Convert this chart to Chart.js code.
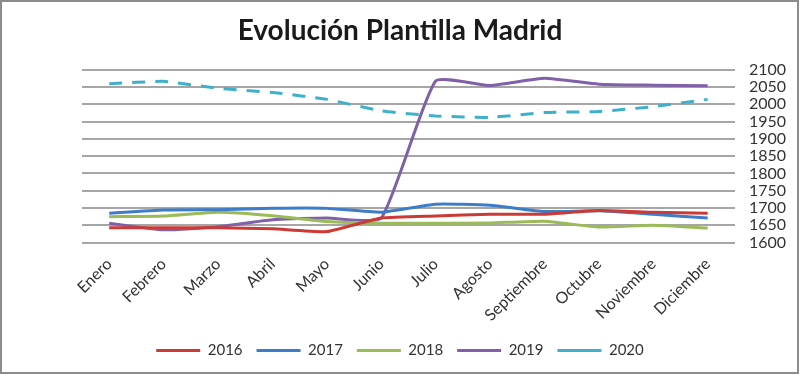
<!DOCTYPE html>
<html>
<head>
<meta charset="utf-8">
<script src="https://cdn.jsdelivr.net/npm/chart.js@4/dist/chart.umd.min.js"></script>
<style>
	html, body { margin: 0; padding: 0; background: #fff; }
	#wrap { width: 800px; height: 375px; position: relative; }
</style>
</head>
<body>
<div id="wrap"><canvas id="chart" width="800" height="375"></canvas></div>
<script>
	'use strict';

	const MONTHS = [ 'Enero', 'Febrero', 'Marzo', 'Abril', 'Mayo', 'Junio', 'Julio', 'Agosto', 'Septiembre', 'Octubre', 'Noviembre', 'Diciembre' ];
	const Y2016 = [ 1643, 1643, 1643, 1640, 1632, 1671, 1677, 1682, 1682, 1693, 1688, 1685 ];
	const Y2017 = [ 1685, 1694, 1695, 1699, 1699, 1688, 1711, 1708, 1690, 1692, 1682, 1671 ];
	const Y2018 = [ 1675, 1677, 1688, 1678, 1661, 1656, 1656, 1657, 1662, 1645, 1650, 1642 ];
	const Y2019 = [ 1656, 1637, 1646, 1666, 1671, 1671, 2067, 2054, 2075, 2058, 2055, 2053 ];
	const Y2020 = [ 2059, 2066, 2046, 2034, 2014, 1981, 1966, 1962, 1976, 1979, 1993, 2014 ];
	const Y_MIN = 1600;
	const Y_MAX = 2100;
	const Y_STEP = 50;

	const FONT = 'Lato, "Open Sans", "Liberation Sans", sans-serif';

	function series( label, data, color, dash ) {
		return {
			label: label,
			data: data,
			borderColor: color,
			backgroundColor: color,
			borderWidth: 3,
			borderDash: dash || [],
			pointRadius: 0,
			pointHoverRadius: 0,
			tension: 0.15,
			fill: false,
		};
	}

	const frame = {
		id: 'frame',
		afterDraw: function ( chart ) {
			const ctx = chart.ctx;
			ctx.save();
			ctx.strokeStyle = '#8c8c8c';
			ctx.lineWidth = 2;
			ctx.strokeRect( 1, 1, chart.width - 3, chart.height - 3 );
			ctx.restore();
		},
	};

	new Chart( document.getElementById( 'chart' ).getContext( '2d' ), {
		type: 'line',
		data: {
			labels: MONTHS,
			datasets: [
				series( '2016', Y2016, '#cc3a36' ),
				series( '2017', Y2017, '#3d7cc9' ),
				series( '2018', Y2018, '#9bbb59' ),
				series( '2019', Y2019, '#8060a8' ),
				series( '2020', Y2020, '#3fb0cc', [ 13, 10 ] ),
			],
		},
		options: {
			responsive: false,
			animation: false,
			layout: {
				padding: { left: 0, right: 0, top: 8, bottom: 7 },
			},
			plugins: {
				title: {
					display: true,
					text: 'Evolución Plantilla Madrid',
					color: '#1a1a1a',
					font: { family: FONT, size: 28, weight: 'bold' },
					padding: { top: 6, bottom: 22 },
				},
				legend: {
					position: 'bottom',
					labels: {
						usePointStyle: true,
						pointStyle: 'line',
						pointStyleWidth: 44,
						boxHeight: 10,
						padding: 14,
						color: '#333',
						font: { family: FONT, size: 15 },
						generateLabels: function ( chart ) {
							const items = Chart.defaults.plugins.legend.labels.generateLabels( chart );
							items.forEach( function ( item ) {
								if ( item.lineDash && item.lineDash.length ) {
									item.lineDash = [ 16, 12 ];
								}
							} );
							return items;
						},
					},
				},
				tooltip: { enabled: false },
			},
			scales: {
				x: {
					offset: true,
					grid: { display: false },
					border: { display: false },
					ticks: {
						color: '#333',
						font: { family: FONT, size: 16 },
						maxRotation: 45,
						minRotation: 45,
						autoSkip: false,
						padding: 4,
					},
				},
				pad: {
					position: 'left',
					axis: 'y',
					display: true,
					grid: { display: false },
					border: { display: false },
					ticks: { display: false },
					afterFit: function ( axis ) {
						axis.width = 82;
					},
				},
				y: {
					position: 'right',
					min: Y_MIN,
					max: Y_MAX,
					grid: { color: '#a6a6a6', lineWidth: 2, drawTicks: false },
					border: { display: false },
					ticks: {
						stepSize: Y_STEP,
						autoSkip: false,
						color: '#333',
						font: { family: FONT, size: 16 },
						padding: 14,
						callback: function ( value ) {
							return String( value );
						},
					},
				},
			},
		},
		plugins: [ frame ],
	} );
</script>
</body>
</html>
